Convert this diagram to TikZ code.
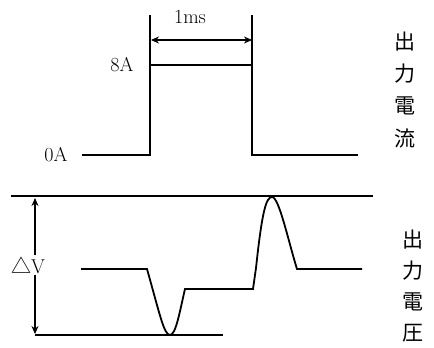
\documentclass[tikz,border=0pt]{standalone}
\usepackage{fontspec}
\newfontfamily\cjk{Noto Sans CJK JP}
\usetikzlibrary{positioning,arrows.meta}

\begin{document}
\begin{tikzpicture}[x=1pt,y=-1pt,>={Stealth[length=8pt,width=7pt]},node distance=32pt,on grid,
  wave/.style={line width=1.8pt},
  guide/.style={line width=1.1pt},
  lbl/.style={font=\fontsize{20}{22}\selectfont,inner sep=1pt},
  kanji/.style={font=\cjk\fontsize{21}{23}\selectfont,inner sep=0pt}]
  \useasboundingbox (0,0) rectangle (434,348);
  % output current
  \coordinate (i0) at (82,155);
  \coordinate (i1) at (150,155);
  \coordinate (i2) at (150,65);
  \coordinate (i3) at (252,65);
  \coordinate (i4) at (252,155);
  \coordinate (i5) at (358,155);
  \coordinate (t1) at (150,15);
  \coordinate (t2) at (252,15);
  \draw[wave] (i0) -- (i1) -- (i2) -- (i3) -- (i4) -- (i5);
  \draw[guide] (i2) -- (t1);
  \draw[guide] (i3) -- (t2);
  \coordinate (w1) at (151,40);
  \coordinate (w2) at (252,40);
  \draw[guide,<->] (w1) -- (w2);
  \node[lbl] (ms) at (190,17) {1ms};
  \node[lbl] (hi) at (122,65) {8A};
  \node[lbl] (lo) at (56,155) {0A};
  \node[kanji] (c1) at (405,42) {出};
  \node[kanji] (c2) [below=of c1] {力};
  \node[kanji] (c3) [below=of c2] {電};
  \node[kanji] (c4) [below=of c3] {流};
  % output voltage
  \coordinate (r1) at (11,196);
  \coordinate (r2) at (373,196);
  \coordinate (b1) at (35,335);
  \coordinate (b2) at (223,335);
  \draw[guide] (r1) -- (r2);
  \draw[guide] (b1) -- (b2);
  \node[lbl] (dv) at (28,265) {{\cjk △}V};
  \coordinate (dvT) at (35,198);
  \coordinate (dvB) at (35,334);
  \draw[guide,->] (dv.north -| dvT) -- (dvT);
  \draw[guide,->] (dv.south -| dvB) -- (dvB);
  \coordinate (v0) at (81,269);
  \coordinate (v1) at (147,269);
  \coordinate (v2) at (170,335);
  \coordinate (v3) at (185,289);
  \coordinate (v4) at (253,289);
  \coordinate (v5) at (256,268);
  \coordinate (v6) at (272,197);
  \coordinate (v7) at (297,269);
  \coordinate (v8) at (362,269);
  \draw[wave] (v0) -- (v1) .. controls (160,315) and (164,335) .. (v2)
    .. controls (176,335) and (180,310) .. (v3) -- (v4) -- (v5)
    .. controls (262,212) and (266,197) .. (v6)
    .. controls (279,197) and (288,240) .. (v7) -- (v8);
  \node[kanji] (d1) at (413,240) {出};
  \node[kanji] (d2) [below=31pt of d1] {力};
  \node[kanji] (d3) [below=31pt of d2] {電};
  \node[kanji] (d4) [below=31pt of d3] {圧};
\end{tikzpicture}
\end{document}
